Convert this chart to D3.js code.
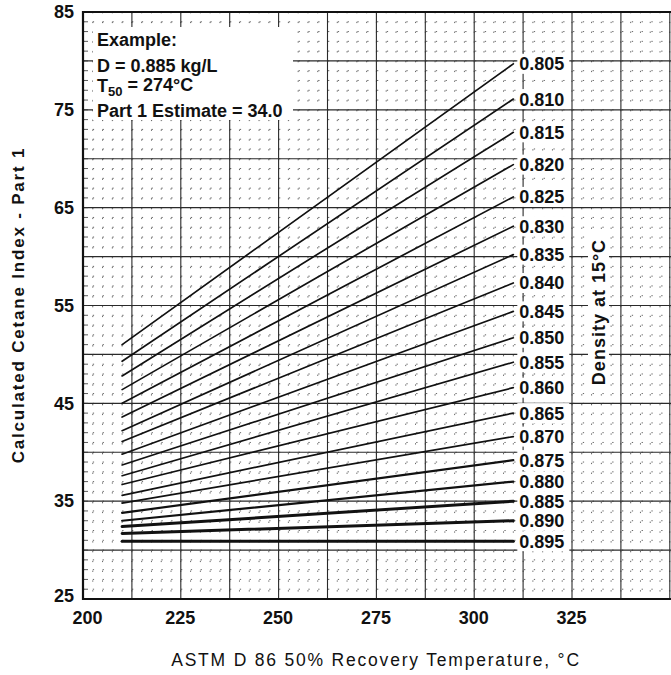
<!DOCTYPE html>
<html>
<head>
<meta charset="utf-8">
<script src="https://cdn.jsdelivr.net/npm/d3@7/dist/d3.min.js"></script>
<style>
body { margin: 0; background: #fff; }
text { font-family: "Liberation Sans", Arial, Helvetica, sans-serif; }
</style>
</head>
<body>
<div id="chart"></div>
<script>
var WIDTH = 671;
var HEIGHT = 675;
var LEFT = 83, TOP = 12, BOTTOM = 599;

// density lines (index at T50 = 210 and 310 degC)
var densities = ["0.805", "0.810", "0.815", "0.820", "0.825", "0.830", "0.835", "0.840", "0.845", "0.850",
                 "0.855", "0.860", "0.865", "0.870", "0.875", "0.880", "0.885", "0.890", "0.895"];
var startValues = [51.0, 49.3, 47.8, 46.4, 45.0, 43.6, 42.2, 41.1, 39.8, 38.7,
                   37.6, 36.7, 35.6, 34.8, 33.8, 33.0, 32.4, 31.7, 30.9];
var endValues = [79.7, 76.1, 72.7, 69.4, 66.1, 63.1, 60.2, 57.3, 54.4, 51.7,
                 49.2, 46.6, 44.0, 41.6, 39.2, 37.0, 35.0, 33.0, 30.9];
var tStart = 210, tEnd = 310;

var xTicks = [200, 225, 250, 275, 300, 325];
var yTicks = [25, 35, 45, 55, 65, 75, 85];

var exampleText = ["Example:", "D = 0.885 kg/L", "T50 = 274°C", "Part 1 Estimate = 34.0"];

var x = d3.scaleLinear().domain([200, 325]).range([LEFT, 572]);
var y = d3.scaleLinear().domain([25, 85]).range([BOTTOM, TOP]);
var xMax = x.invert(WIDTH);

function drawGrid(svg) {
    var g = svg.append("g").attr("class", "grid");
    // minor dotted grid
    g.selectAll("line.vminor").data(d3.range(202.5, xMax, 2.5))
        .enter().append("line")
        .attr("x1", d => x(d)).attr("x2", d => x(d))
        .attr("y1", TOP).attr("y2", BOTTOM)
        .attr("stroke", "#555").attr("stroke-width", 0.9)
        .attr("stroke-dasharray", "1.3,8.5");
    g.selectAll("line.hminor").data(d3.range(26, 85, 1))
        .enter().append("line")
        .attr("x1", LEFT).attr("x2", WIDTH)
        .attr("y1", d => y(d)).attr("y2", d => y(d))
        .attr("stroke", "#555").attr("stroke-width", 0.9)
        .attr("stroke-dasharray", "1.3,8.5");
    // major grid
    g.selectAll("line.vmajor").data(d3.range(212.5, xMax, 12.5))
        .enter().append("line")
        .attr("x1", d => x(d)).attr("x2", d => x(d))
        .attr("y1", TOP).attr("y2", BOTTOM)
        .attr("stroke", "#2a2a2a").attr("stroke-width", 1.1);
    g.selectAll("line.hmajor").data(d3.range(30, 85, 5))
        .enter().append("line")
        .attr("x1", LEFT).attr("x2", WIDTH)
        .attr("y1", d => y(d)).attr("y2", d => y(d))
        .attr("stroke", "#2a2a2a").attr("stroke-width", 1.1);
    // small ticks on the left edge
    g.selectAll("line.ltick").data(d3.range(26, 85, 1))
        .enter().append("line")
        .attr("x1", LEFT).attr("x2", LEFT + 5)
        .attr("y1", d => y(d)).attr("y2", d => y(d))
        .attr("stroke", "#333").attr("stroke-width", 0.8);
}

function drawFrame(svg) {
    svg.append("path")
        .attr("d", "M" + WIDTH + "," + y(85) + "H" + x(200) + "V" + y(25) + "H" + WIDTH)
        .attr("fill", "none").attr("stroke", "#111").attr("stroke-width", 2.2);

    var xAxis = svg.append("g").attr("transform", "translate(0," + BOTTOM + ")")
        .call(d3.axisBottom(x).tickValues(xTicks).tickSize(0).tickPadding(12).tickFormat(d3.format("d")));
    xAxis.select(".domain").remove();
    xAxis.selectAll("text")
        .attr("font-size", 18).attr("font-weight", "bold").attr("fill", "#111")
        .attr("dx", d => d === 200 ? 4 : -1);

    var yAxis = svg.append("g").attr("transform", "translate(" + (LEFT - 1) + ",0)")
        .call(d3.axisLeft(y).tickValues(yTicks).tickSize(0).tickPadding(8).tickFormat(d3.format("d")));
    yAxis.select(".domain").remove();
    yAxis.selectAll("text")
        .attr("font-size", 18).attr("font-weight", "bold").attr("fill", "#111")
        .attr("dy", d => d === 25 ? "0.12em" : "0.32em");

    svg.append("text")
        .attr("transform", "translate(24," + 305 + ") rotate(-90)")
        .attr("text-anchor", "middle")
        .attr("font-size", 17).attr("font-weight", "bold").attr("fill", "#111")
        .attr("letter-spacing", 1.8)
        .text("Calculated Cetane Index - Part 1");

    svg.append("text")
        .attr("x", 376).attr("y", 666)
        .attr("text-anchor", "middle")
        .attr("font-size", 17.5).attr("fill", "#111")
        .attr("letter-spacing", 1.8)
        .text("ASTM D 86 50% Recovery Temperature, °C");
}

function drawLines(svg) {
    var g = svg.append("g").attr("class", "density");
    densities.forEach(function (d, i) {
        var w = i >= 16 ? 3 : (i >= 14 ? 2.2 : 1.7);
        g.append("line")
            .attr("x1", x(tStart)).attr("y1", y(startValues[i]))
            .attr("x2", x(tEnd)).attr("y2", y(endValues[i]))
            .attr("stroke", "#111").attr("stroke-width", w)
            .attr("stroke-linecap", "round");
        g.append("rect")
            .attr("x", x(tEnd) + 4).attr("y", y(endValues[i]) - 10)
            .attr("width", 52).attr("height", 20)
            .attr("fill", "#fff");
        g.append("text")
            .attr("x", x(tEnd) + 6).attr("y", y(endValues[i]))
            .attr("dy", "0.36em")
            .attr("font-size", 18).attr("font-weight", "bold").attr("fill", "#111")
            .text(d);
    });

    svg.append("rect")
        .attr("x", 588).attr("y", 236).attr("width", 21).attr("height", 154)
        .attr("fill", "#fff");
    svg.append("text")
        .attr("transform", "translate(605,312) rotate(-90)")
        .attr("text-anchor", "middle")
        .attr("font-size", 18).attr("font-weight", "bold").attr("fill", "#111")
        .attr("letter-spacing", 1)
        .text("Density at 15°C");
}

function drawExample(svg) {
    svg.append("rect")
        .attr("x", 93).attr("y", 27).attr("width", 200).attr("height", 93)
        .attr("fill", "#fff");
    var rows = [40, 66, 86, 111];
    exampleText.forEach(function (t, i) {
        var txt = svg.append("text")
            .attr("x", 97).attr("y", rows[i]).attr("dy", "0.36em")
            .attr("font-size", 18).attr("font-weight", "bold").attr("fill", "#111");
        if (t.indexOf("T50") === 0) {
            txt.append("tspan").text("T");
            txt.append("tspan").attr("font-size", 13).attr("dy", "0.25em").text("50");
            txt.append("tspan").attr("dy", "-0.25em").text(t.slice(3));
        } else {
            txt.text(t);
        }
    });
}

var svg = d3.select("#chart").append("svg")
    .attr("width", WIDTH).attr("height", HEIGHT);
svg.append("rect").attr("width", WIDTH).attr("height", HEIGHT).attr("fill", "#fff");
drawGrid(svg);
drawLines(svg);
drawExample(svg);
drawFrame(svg);
</script>
</body>
</html>
